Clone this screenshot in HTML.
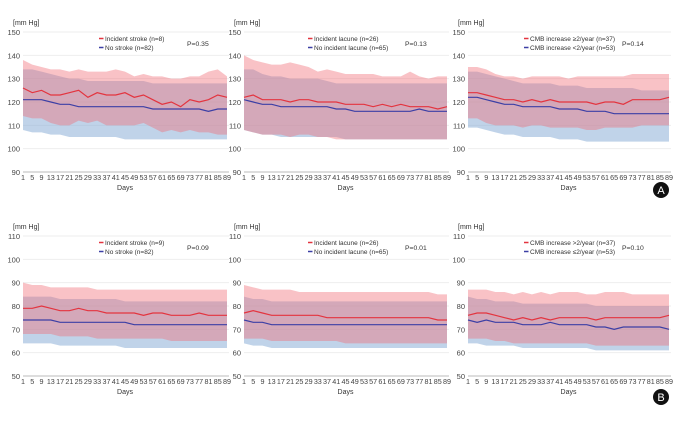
<!DOCTYPE html>
<html><head><meta charset="utf-8"><style>
body{margin:0;background:#fff;width:685px;height:417px;overflow:hidden;font-family:"Liberation Sans",sans-serif}
svg text{font-family:"Liberation Sans",sans-serif}
</style></head><body>
<svg id="c" width="685" height="417"></svg>
<script>
const days=[1,5,9,13,17,21,25,29,33,37,41,45,49,53,57,61,65,69,73,77,81,85,89];
const xTicks=[1,5,9,13,17,21,25,29,33,37,41,45,49,53,57,61,65,69,73,77,81,85,89];
const yTicksTop=[90,100,110,120,130,140,150];
const yTicksBot=[50,60,70,80,90,100,110];
// Panel A1
const a1RedMean=[126,124,125,123,123,124,125,122,124,123,123,124,122,123,121,119,120,118,121,120,121,123,122];
const a1RedUp=[138,136,135,134,134,133,134,133,133,133,134,133,131,132,131,131,130,130,131,131,133,134,131];
const a1RedLo=[114,113,113,111,110,110,112,111,112,110,110,110,110,111,109,107,108,107,108,107,107,106,106];
const a1BlueMean=[121,121,121,120,119,119,118,118,118,118,118,118,118,118,117,117,117,117,117,117,116,117,117];
const a1BlueUp=[134,134,133,132,131,130,130,129,129,129,129,129,129,129,128,128,128,128,128,128,128,128,128];
const a1BlueLo=[108,107,107,106,106,105,105,105,105,105,105,104,104,104,104,104,104,104,104,104,104,104,104];
// Panel A2
const a2RedMean=[122,123,121,121,121,120,121,121,120,120,120,119,119,119,118,119,118,119,118,118,118,117,118];
const a2RedUp=[140,138,137,136,136,137,136,135,133,134,133,132,132,132,132,131,131,131,133,131,130,131,131];
const a2RedLo=[108,107,106,106,106,105,106,106,105,105,104,104,104,104,104,104,104,104,104,104,104,104,104];
const a2BlueMean=[121,120,119,119,118,118,118,118,118,118,117,117,116,116,116,116,116,116,116,117,116,116,116];
const a2BlueUp=[134,134,132,131,131,130,130,130,130,129,128,128,128,128,128,128,128,128,128,128,128,128,128];
const a2BlueLo=[108,107,106,106,105,105,105,105,105,105,105,104,104,104,104,104,104,104,104,104,104,104,104];
// Panel A3
const a3RedMean=[124,124,123,122,121,121,120,121,120,121,120,120,120,120,119,120,120,119,121,121,121,121,122];
const a3RedUp=[135,135,134,132,131,131,130,131,131,131,131,130,131,131,131,131,131,131,132,132,132,132,132];
const a3RedLo=[113,113,111,110,110,110,109,110,110,109,109,109,109,108,108,109,109,109,109,110,110,110,110];
const a3BlueMean=[122,122,121,120,119,119,118,118,118,118,117,117,117,116,116,116,115,115,115,115,115,115,115];
const a3BlueUp=[133,133,132,131,130,129,128,128,128,128,127,127,127,126,126,126,126,126,126,125,125,125,125];
const a3BlueLo=[109,109,108,107,106,106,105,105,105,105,104,104,104,103,103,103,103,103,103,103,103,103,103];
// Panel B1
const b1RedMean=[79,79,80,79,78,78,79,78,78,77,77,77,77,76,77,77,76,76,76,77,76,76,76];
const b1RedUp=[90,89,89,88,88,88,88,88,87,87,87,87,87,87,87,87,87,87,87,87,87,87,87];
const b1RedLo=[68,68,68,68,67,67,67,67,66,66,66,66,66,66,66,66,65,65,65,65,65,65,65];
const b1BlueMean=[74,74,74,74,73,73,73,73,73,73,73,73,72,72,72,72,72,72,72,72,72,72,72];
const b1BlueUp=[84,84,84,84,83,83,83,83,83,83,83,82,82,82,82,82,82,82,82,82,82,82,82];
const b1BlueLo=[64,64,64,64,63,63,63,63,63,63,63,62,62,62,62,62,62,62,62,62,62,62,62];
// Panel B2
const b2RedMean=[77,78,77,76,76,76,76,76,76,75,75,75,75,75,75,75,75,75,75,75,75,74,74];
const b2RedUp=[89,88,87,87,87,87,86,86,86,86,86,86,86,86,86,86,86,86,86,86,86,85,85];
const b2RedLo=[66,66,66,65,65,65,65,65,65,65,65,64,64,64,64,64,64,64,64,64,64,64,64];
const b2BlueMean=[74,73,73,72,72,72,72,72,72,72,72,72,72,72,72,72,72,72,72,72,72,72,72];
const b2BlueUp=[84,83,83,82,82,82,82,82,82,82,82,82,82,82,82,82,82,82,82,82,82,82,82];
const b2BlueLo=[64,63,63,62,62,62,62,62,62,62,62,62,62,62,62,62,62,62,62,62,62,62,62];
// Panel B3
const b3RedMean=[76,77,77,76,75,74,75,74,75,74,75,75,75,75,74,75,75,75,75,75,75,75,76];
const b3RedUp=[87,87,87,86,86,85,86,85,86,85,86,86,86,85,85,86,86,86,85,85,85,85,85];
const b3RedLo=[66,66,66,65,65,64,64,64,64,64,64,64,64,64,63,63,63,63,63,63,63,63,63];
const b3BlueMean=[74,73,74,73,73,73,72,72,72,73,72,72,72,72,71,71,70,71,71,71,71,71,70];
const b3BlueUp=[84,83,83,82,82,82,81,81,81,81,81,81,81,81,80,80,80,80,80,80,80,80,80];
const b3BlueLo=[64,64,63,63,63,63,62,62,62,62,62,62,62,62,61,61,61,61,61,61,61,61,61];

const panels=[
 {id:'a1',x0:23,x1:227,top:32,bot:172,ticks:yTicksTop,r:[a1RedMean,a1RedUp,a1RedLo],b:[a1BlueMean,a1BlueUp,a1BlueLo],leg:['Incident stroke (n=8)','No stroke (n=82)'],lx:105,p:'P=0.35',px:187},
 {id:'a2',x0:244,x1:447,top:32,bot:172,ticks:yTicksTop,r:[a2RedMean,a2RedUp,a2RedLo],b:[a2BlueMean,a2BlueUp,a2BlueLo],leg:['Incident lacune (n=26)','No incident lacune (n=65)'],lx:314,p:'P=0.13',px:405},
 {id:'a3',x0:468,x1:669,top:32,bot:172,ticks:yTicksTop,r:[a3RedMean,a3RedUp,a3RedLo],b:[a3BlueMean,a3BlueUp,a3BlueLo],leg:['CMB increase \u22652/year (n=37)','CMB increase <2/year (n=53)'],lx:530,p:'P=0.14',px:622},
 {id:'b1',x0:23,x1:227,top:236,bot:376,ticks:yTicksBot,r:[b1RedMean,b1RedUp,b1RedLo],b:[b1BlueMean,b1BlueUp,b1BlueLo],leg:['Incident stroke (n=9)','No stroke (n=82)'],lx:105,p:'P=0.09',px:187},
 {id:'b2',x0:244,x1:447,top:236,bot:376,ticks:yTicksBot,r:[b2RedMean,b2RedUp,b2RedLo],b:[b2BlueMean,b2BlueUp,b2BlueLo],leg:['Incident lacune (n=26)','No incident lacune (n=65)'],lx:314,p:'P=0.01',px:405},
 {id:'b3',x0:468,x1:669,top:236,bot:376,ticks:yTicksBot,r:[b3RedMean,b3RedUp,b3RedLo],b:[b3BlueMean,b3BlueUp,b3BlueLo],leg:['CMB increase >2/year (n=37)','CMB increase \u22642/year (n=53)'],lx:530,p:'P=0.10',px:622}
];
const NS='http://www.w3.org/2000/svg';
const svg=document.getElementById('c');
function mk(tag,attrs,parent,text){const e=document.createElementNS(NS,tag);for(const k in attrs)e.setAttribute(k,attrs[k]);if(text!==undefined)e.textContent=text;(parent||svg).appendChild(e);return e;}
panels.forEach(P=>{
 const g=mk('g',{});
 
 
 const lo=P.ticks[0],hi=P.ticks[P.ticks.length-1];
 const X=d=>P.x0+(d-1)/(88)*(P.x1-P.x0);
 const Y=v=>P.bot-(v-lo)/(hi-lo)*(P.bot-P.top);
 P.ticks.forEach(t=>{
  const gl=mk('line',{x1:P.x0,x2:P.x1+2,y1:Y(t),y2:Y(t),stroke:t===lo?'#bbb':'#eee','stroke-width':1},g);
  
  
  const tl=mk('text',{x:P.x0-3,y:Y(t)+3,'font-size':7.5,'text-anchor':'end',fill:'#444'},g,t);
  
  
 });
 const ya=mk('text',{x:P.x0-10,y:P.top-7,'font-size':7,fill:'#333'},g,'[mm Hg]');
 
 
 xTicks.forEach(d=>{
  const xl=mk('text',{x:X(d),y:P.bot+8,'font-size':7.2,'text-anchor':'middle',fill:'#444'},g,d);
  
  
 });
 const xa=mk('text',{x:(P.x0+P.x1)/2,y:P.bot+18,'font-size':7,'text-anchor':'middle',fill:'#333'},g,'Days');
 
 
 function band(up,dn,fill,name){
  let d='M'+days.map((dd,i)=>X(dd)+','+Y(up[i])).join('L');
  for(let i=days.length-1;i>=0;i--)d+='L'+X(days[i])+','+Y(dn[i]);
  const e=mk('path',{d:d+'Z',fill:fill},g);
  
  
 }
 function line(m,col,name){
  const e=mk('polyline',{points:days.map((dd,i)=>X(dd)+','+Y(m[i])).join(' '),fill:'none',stroke:col,'stroke-width':1.2},g);
  
  
 }
 band(P.b[1],P.b[2],'rgba(140,175,215,0.55)','blue-band');
 band(P.r[1],P.r[2],'rgba(240,110,120,0.42)','red-band');
 line(P.b[0],'#3c3fa5','blue-mean-line');
 line(P.r[0],'#e3343f','red-mean-line');
 const ly=P.top+9;
 [[P.leg[0],'#e3343f'],[P.leg[1],'#3c3fa5']].forEach((l,i)=>{
  const lg=mk('g',{},g);
  
  
  mk('line',{x1:P.lx-6,x2:P.lx-1.5,y1:ly+i*9-2.5,y2:ly+i*9-2.5,stroke:l[1],'stroke-width':1.5},lg);
  mk('text',{x:P.lx,y:ly+i*9,'font-size':6.5,fill:'#333'},lg,l[0]);
 });
 const pt=mk('text',{x:P.px,y:ly+5,'font-size':6.8,fill:'#333'},g,P.p);
 
 
});
[['A',190],['B',397]].forEach(b=>{
 const g=mk('g',{});
 
 
 mk('circle',{cx:661,cy:b[1],r:8,fill:'#111'},g);
 mk('text',{x:661,y:b[1]+4,'font-size':11,'text-anchor':'middle',fill:'#fff'},g,b[0]);
});
</script>
</body></html>
